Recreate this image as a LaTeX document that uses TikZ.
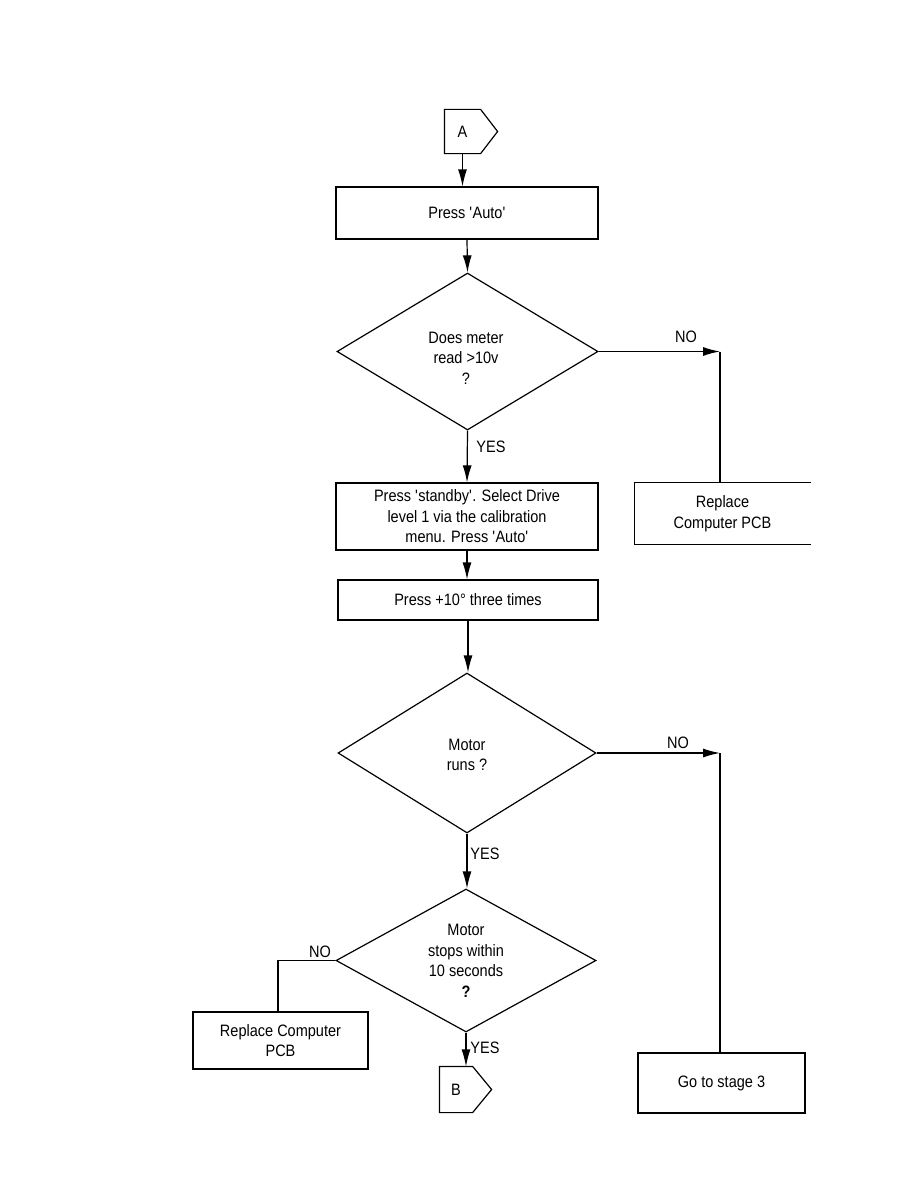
\documentclass[tikz,border=0pt]{standalone}
\usepackage{fontspec}
\setmainfont{Liberation Sans}[FakeStretch=0.88]
\usetikzlibrary{shapes.geometric,arrows.meta,calc}
\newcommand{\sq}{\textquotesingle}
\begin{document}
\begin{tikzpicture}[x=1pt,y=-1pt,
  every node/.style={font=\fontsize{16.5}{20.5}\selectfont},
  line width=1.2pt,
  stepbox/.style={draw,rectangle,inner sep=0pt,align=center},
  decision/.style={draw,diamond,inner sep=0pt,align=center},
  conn/.style={rectangle,inner sep=0pt},
  arr/.style={-{Latex[length=17pt,width=9pt]}},
  lbl/.style={inner sep=1pt}]
\useasboundingbox (0,0) rectangle (918,1188);

% connector A
\node[conn,minimum width=35pt,minimum height=43pt] (A) at (462.5,131.5) {A};
\draw (A.north west) -- (A.north east) -- ($(A.east)+(17,0)$) -- (A.south east) -- (A.south west) -- cycle;

\node[stepbox,minimum width=262pt,minimum height=52pt] (b1) at (467,213) {Press \sq Auto\sq};
\node[decision,minimum width=261pt,minimum height=157pt] (d1) at (467.5,351.5) {};
\node[align=center,inner sep=0pt] (t1) at (466,358) {Does meter\\ read >10v\\ ?};
\node[stepbox,minimum width=262pt,minimum height=67pt] (b2) at (467,516.5) {Press \sq standby\sq. Select Drive\\ level 1 via the calibration\\ menu. Press \sq Auto\sq};
\node[stepbox,minimum width=260pt,minimum height=40pt] (b3) at (468,600) {Press +10° three times};
\node[decision,minimum width=258pt,minimum height=160pt] (d2) at (467,753) {};
\node[align=center,inner sep=0pt] (t2) at (467,755) {Motor\\ runs ?};
\node[decision,minimum width=260pt,minimum height=143pt] (d3) at (466,960.5) {};
\node[align=center,inner sep=0pt] (t3) at (466,961) {Motor\\ stops within\\ 10 seconds\\ \textbf{?}};

% Replace Computer PCB (right, clipped on its right side)
\node[rectangle,inner sep=0pt,minimum width=175pt,minimum height=61pt,align=center] (r1) at (722.5,513.5) {Replace\\ Computer PCB};
\draw (r1.north east) -- (r1.north west) -- (r1.south west) -- (r1.south east);

\node[stepbox,minimum width=167pt,minimum height=60pt] (g3) at (721.5,1083) {Go to stage 3};
\node[stepbox,minimum width=175pt,minimum height=57pt] (r2) at (280.5,1040.5) {Replace Computer\\ PCB};

% connector B
\node[conn,minimum width=32pt,minimum height=45pt] (B) at (456,1089.5) {B};
\draw (B.north west) -- (B.north east) -- ($(B.east)+(19,0)$) -- (B.south east) -- (B.south west) -- cycle;

\coordinate (c1) at (720,351.5);
\coordinate (c2) at (720,753);
\coordinate (c3) at (278,960.5);

% connectors
\draw[arr] (A.south) -- (A.south |- b1.north);
\draw[arr] (b1.south) -- (d1.north);
\draw[arr] (d1.south) -- (b2.north);
\draw[arr] (b2.south) -- (b2.south |- b3.north);
\draw[arr] (b3.south) -- (b3.south |- d2.north);
\draw[arr] (d2.south) -- (d2.south |- d3.north);
\draw[arr] (d3.south) -- (d3.south |- B.north);

\draw[arr] (d1.east) -- (c1);
\draw (c1) -- (c1 |- r1.north);
\draw[arr] (d2.east) -- (c2);
\draw (c2) -- (c2 |- g3.north);
\draw (d3.west) -- (c3) -- (c3 |- r2.north);

% labels
\node[lbl] (n1) at (686,337) {NO};
\node[lbl] (y1) at (491,447) {YES};
\node[lbl] (n2) at (678,743) {NO};
\node[lbl] (y2) at (485,854) {YES};
\node[lbl] (n3) at (320,952) {NO};
\node[lbl] (y3) at (485,1048) {YES};
\end{tikzpicture}
\end{document}
